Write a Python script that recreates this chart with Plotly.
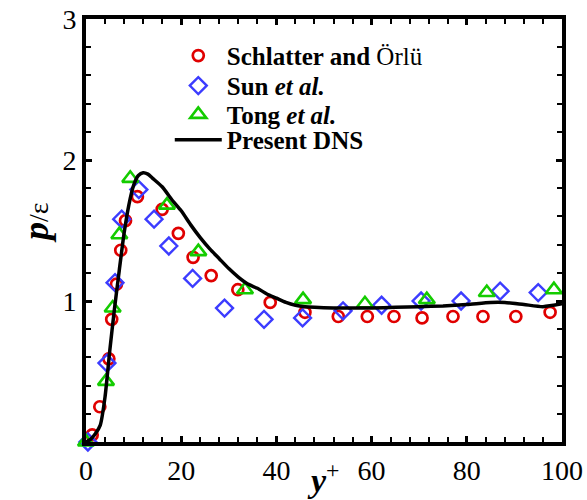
import plotly.graph_objects as go

# Schlatter and Örlü
sch_x = [1.3, 2.9, 4.8, 5.4, 6.4, 7.3, 8.3, 10.8, 16.0, 19.4, 22.5, 26.3, 31.9, 38.7, 46.0, 53.0, 59.1, 64.7, 70.6, 77.1, 83.4, 90.3, 97.5]
sch_y = [0.05, 0.25, 0.59, 0.87, 1.12, 1.36, 1.57, 1.74, 1.65, 1.48, 1.31, 1.18, 1.08, 0.99, 0.92, 0.89, 0.89, 0.89, 0.88, 0.89, 0.89, 0.89, 0.92]
# Sun et al.
sun_x = [0.4, 4.4, 6.1, 7.5, 11.1, 14.3, 17.4, 22.4, 29.1, 37.4, 45.5, 54.0, 62.1, 70.4, 78.8, 87.0, 95.0]
sun_y = [0.0, 0.56, 1.13, 1.58, 1.79, 1.58, 1.39, 1.16, 0.95, 0.87, 0.88, 0.93, 0.97, 1.00, 1.00, 1.07, 1.06]
# Tong et al.
tong_x = [0.0, 4.2, 5.6, 7.0, 9.3, 17.0, 23.6, 33.4, 45.6, 58.6, 71.6, 84.2, 98.3]
tong_y = [0.0, 0.43, 0.95, 1.47, 1.87, 1.68, 1.35, 1.08, 1.01, 0.98, 1.01, 1.06, 1.08]
# Present DNS
dns_x = [0, 1, 2, 3, 4, 5, 6, 7, 8, 9, 10, 11, 12, 13, 14, 16, 18, 20, 22, 24, 26, 28, 30, 32, 34, 36, 38, 40, 42, 44, 46, 48, 52, 56, 60, 65, 70, 75, 80, 85, 88, 92, 96, 100]
dns_y = [0, 0.02, 0.06, 0.12, 0.32, 0.65, 0.95, 1.22, 1.48, 1.68, 1.82, 1.89, 1.91, 1.90, 1.87, 1.81, 1.72, 1.64, 1.54, 1.45, 1.37, 1.30, 1.23, 1.17, 1.12, 1.09, 1.05, 1.02, 0.99, 0.97, 0.96, 0.955, 0.95, 0.95, 0.95, 0.955, 0.96, 0.965, 0.975, 0.99, 0.99, 0.975, 0.96, 0.98]

x_ticks = [0, 20, 40, 60, 80, 100]
y_ticks = [0, 1, 2, 3]
y_ticktext = ["", "1", "2", "3"]

FONT = "Liberation Serif"
RED, BLUE, GREEN = "#e00000", "#3c3cff", "#14cc00"

fig = go.Figure()
fig.add_trace(go.Scatter(x=sch_x, y=sch_y, mode="markers", name="<b>Schlatter and </b>Örlü",
                         marker=dict(symbol="circle-open", size=11, color=RED, line=dict(width=2.7, color=RED)),
                         cliponaxis=False, legend="legend"))
fig.add_trace(go.Scatter(x=sun_x, y=sun_y, mode="markers", name="<b>Sun <i>et al.</i></b>",
                         marker=dict(symbol="diamond-open", size=13, color=BLUE, line=dict(width=2.4, color=BLUE)),
                         cliponaxis=False, legend="legend2"))
fig.add_trace(go.Scatter(x=tong_x, y=tong_y, mode="markers", name="<b>Tong <i>et al.</i></b>",
                         marker=dict(symbol="triangle-up-open", size=14, color=GREEN, line=dict(width=2.6, color=GREEN)),
                         cliponaxis=False, legend="legend3"))
fig.add_trace(go.Scatter(x=dns_x, y=dns_y, mode="lines", name="<b>Present DNS</b>",
                         line=dict(color="black", width=3.5, shape="spline", smoothing=0.6),
                         legend="legend4"))

def leg(y):
    return dict(x=0.176, y=y, xanchor="left", yanchor="middle", bgcolor="rgba(0,0,0,0)",
                font=dict(family=FONT, size=25, color="black"), itemwidth=47)

axis_common = dict(showline=True, linecolor="black", linewidth=4, mirror="allticks",
                   ticks="inside", ticklen=6, tickwidth=3, tickcolor="black",
                   showgrid=False, zeroline=False, automargin=False,
                   tickfont=dict(family=FONT, size=28, color="black"))

fig.update_layout(
    width=587, height=500,
    margin=dict(l=86, r=25, t=19, b=58),
    paper_bgcolor="white", plot_bgcolor="white",
    showlegend=True,
    legend=leg(0.913), legend2=leg(0.842), legend3=leg(0.774), legend4=leg(0.714),
    xaxis=dict(range=[0, 100], tickvals=x_ticks, ticktext=[str(v) for v in x_ticks],
               minor=dict(dtick=4, tick0=0, ticks="inside", ticklen=5, tickwidth=1.5, tickcolor="black"),
               **axis_common),
    yaxis=dict(range=[0, 3], tickvals=y_ticks, ticktext=y_ticktext,
               minor=dict(dtick=0.2, tick0=0, ticks="inside", ticklen=5, tickwidth=1.5, tickcolor="black"),
               **axis_common),
    annotations=[
        dict(text="<b><i>p</i></b><span style='font-size:28px'>/ε</span>", xref="paper", yref="paper",
             x=-0.105, y=0.518, xanchor="center", yanchor="middle", textangle=-90, showarrow=False,
             font=dict(family=FONT, size=36, color="black")),
        dict(text="<b><i>y</i></b><sup>+</sup>", xref="paper", yref="paper",
             x=0.498, y=-0.085, xanchor="center", yanchor="middle", showarrow=False,
             font=dict(family=FONT, size=34, color="black")),
    ],
)

fig.write_html("out.html")
